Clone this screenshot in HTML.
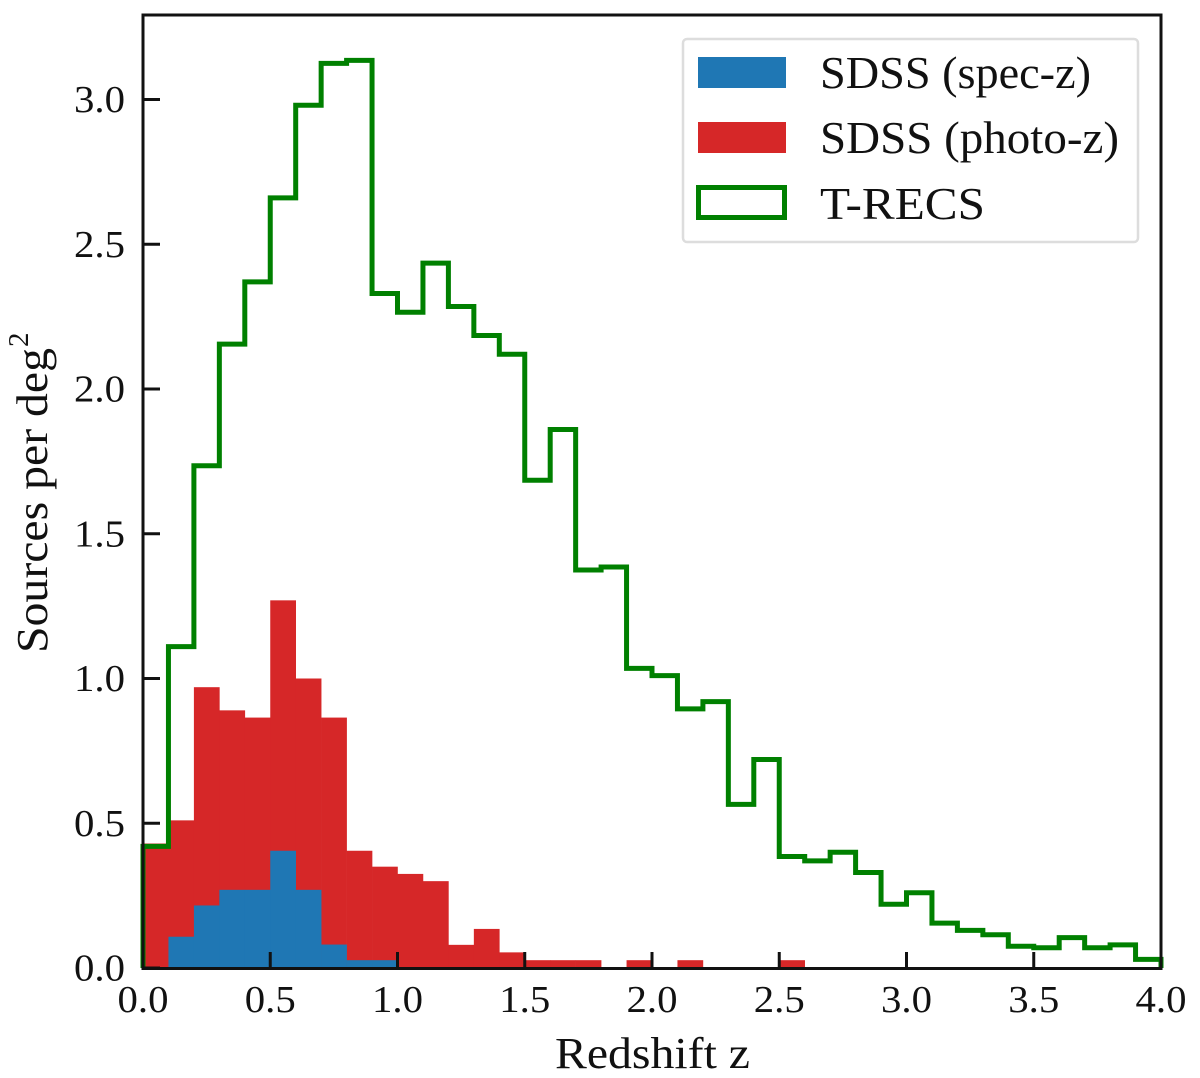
<!DOCTYPE html>
<html>
<head>
<meta charset="utf-8">
<title>Redshift distribution</title>
<style>
html,body{margin:0;padding:0;background:#fff;width:1200px;height:1078px;overflow:hidden}
svg{display:block}
text{font-family:"Liberation Serif",serif;fill:#111}
</style>
</head>
<body>
<svg id="chart" xmlns="http://www.w3.org/2000/svg" width="1200" height="1078" viewBox="0 0 1200 1078">
  <g id="bars"></g>
  <g id="xticks"></g>
  <g id="yticks"></g>
  <rect x="143" y="15" width="1018" height="953.5" fill="none" stroke="#111" stroke-width="3"/>
  <text x="555" y="1068" font-size="44" textLength="195" lengthAdjust="spacingAndGlyphs">Redshift z</text>
  <g>
    <text transform="translate(47,653) rotate(-90)" font-size="44" textLength="305" lengthAdjust="spacingAndGlyphs">Sources per deg</text>
    <text transform="translate(28,347) rotate(-90)" font-size="29">2</text>
  </g>
  <g>
    <rect x="683" y="39" width="455" height="203" rx="4" fill="#fff" fill-opacity="0.9" stroke="#ddd" stroke-width="2.5"/>
    <rect x="698" y="57" width="88" height="31" fill="#1f77b4"/>
    <text x="820" y="88" font-size="45" textLength="271" lengthAdjust="spacingAndGlyphs">SDSS (spec-z)</text>
    <rect x="698" y="122" width="88" height="31" fill="#d62728"/>
    <text x="820" y="153" font-size="45" textLength="299" lengthAdjust="spacingAndGlyphs">SDSS (photo-z)</text>
    <rect x="698.5" y="187.5" width="86" height="30" fill="#fff" stroke="#008000" stroke-width="5"/>
    <text x="820" y="219" font-size="45" textLength="165" lengthAdjust="spacingAndGlyphs">T-RECS</text>
  </g>
</svg>
<script>
const binWidth = 0.1;
const photoZ = [0.43,0.51,0.97,0.89,0.865,1.27,1.0,0.865,0.405,0.35,0.325,0.30,0.08,0.135,0.054,0.027,0.027,0.027,0,0.027,0,0.027,0,0,0,0.027];
const specZ = [0,0.108,0.216,0.27,0.27,0.405,0.27,0.081,0.027,0.027];
const tRecs = [0.42,1.11,1.735,2.155,2.37,2.66,2.98,3.125,3.135,2.33,2.265,2.435,2.285,2.185,2.12,1.685,1.86,1.375,1.385,1.035,1.01,0.895,0.92,0.565,0.72,0.385,0.37,0.40,0.33,0.22,0.26,0.155,0.13,0.115,0.075,0.07,0.105,0.07,0.08,0.03];
const xTickLabels = ["0.0","0.5","1.0","1.5","2.0","2.5","3.0","3.5","4.0"];
const yTickLabels = ["0.0","0.5","1.0","1.5","2.0","2.5","3.0"];

const NS = "http://www.w3.org/2000/svg";
const xScale = v => 143 + v * 254.5;
const yScale = v => 968 - v * 289.5;
const barsLayer = document.getElementById("bars");
const xTicksLayer = document.getElementById("xticks");
const yTicksLayer = document.getElementById("yticks");

function drawBars(values, color, name) {
  values.forEach((v, i) => {
    if (v <= 0) return;
    const r = document.createElementNS(NS, "rect");
    
    
    r.setAttribute("x", xScale(i * binWidth));
    r.setAttribute("y", yScale(v));
    r.setAttribute("width", xScale((i + 1) * binWidth) - xScale(i * binWidth) + 0.3);
    r.setAttribute("height", yScale(0) - yScale(v));
    r.setAttribute("fill", color);
    barsLayer.appendChild(r);
  });
}
drawBars(photoZ, "#d62728", "bar-photo-z");
drawBars(specZ, "#1f77b4", "bar-spec-z");

let stepPath = "M" + xScale(0) + " " + yScale(0);
tRecs.forEach((v, i) => {
  stepPath += " L" + xScale(i * binWidth) + " " + yScale(v);
  stepPath += " L" + xScale((i + 1) * binWidth) + " " + yScale(v);
});
stepPath += " L" + xScale(tRecs.length * binWidth) + " " + yScale(0);
const stepLine = document.createElementNS(NS, "path");


stepLine.setAttribute("d", stepPath);
stepLine.setAttribute("fill", "none");
stepLine.setAttribute("stroke", "#008000");
stepLine.setAttribute("stroke-width", "5");
stepLine.setAttribute("stroke-linejoin", "miter");
barsLayer.appendChild(stepLine);

xTickLabels.forEach(label => {
  const v = parseFloat(label);
  const t = document.createElementNS(NS, "line");
  
  
  t.setAttribute("x1", xScale(v));
  t.setAttribute("x2", xScale(v));
  t.setAttribute("y1", 968.5);
  t.setAttribute("y2", 952);
  t.setAttribute("stroke", "#111");
  t.setAttribute("stroke-width", "3");
  xTicksLayer.appendChild(t);
  const l = document.createElementNS(NS, "text");
  
  
  l.setAttribute("x", xScale(v) - 25.5);
  l.setAttribute("y", 1012);
  l.setAttribute("font-size", "38");
  l.setAttribute("textLength", "51");
  l.setAttribute("lengthAdjust", "spacingAndGlyphs");
  l.textContent = label;
  xTicksLayer.appendChild(l);
});

yTickLabels.forEach(label => {
  const v = parseFloat(label);
  const t = document.createElementNS(NS, "line");
  
  
  t.setAttribute("x1", 143);
  t.setAttribute("x2", 160);
  t.setAttribute("y1", yScale(v));
  t.setAttribute("y2", yScale(v));
  t.setAttribute("stroke", "#111");
  t.setAttribute("stroke-width", "3");
  yTicksLayer.appendChild(t);
  const l = document.createElementNS(NS, "text");
  
  
  l.setAttribute("x", 74);
  l.setAttribute("y", yScale(v) + 12.5);
  l.setAttribute("font-size", "38");
  l.setAttribute("textLength", "51");
  l.setAttribute("lengthAdjust", "spacingAndGlyphs");
  l.textContent = label;
  yTicksLayer.appendChild(l);
});
</script>
</body>
</html>
